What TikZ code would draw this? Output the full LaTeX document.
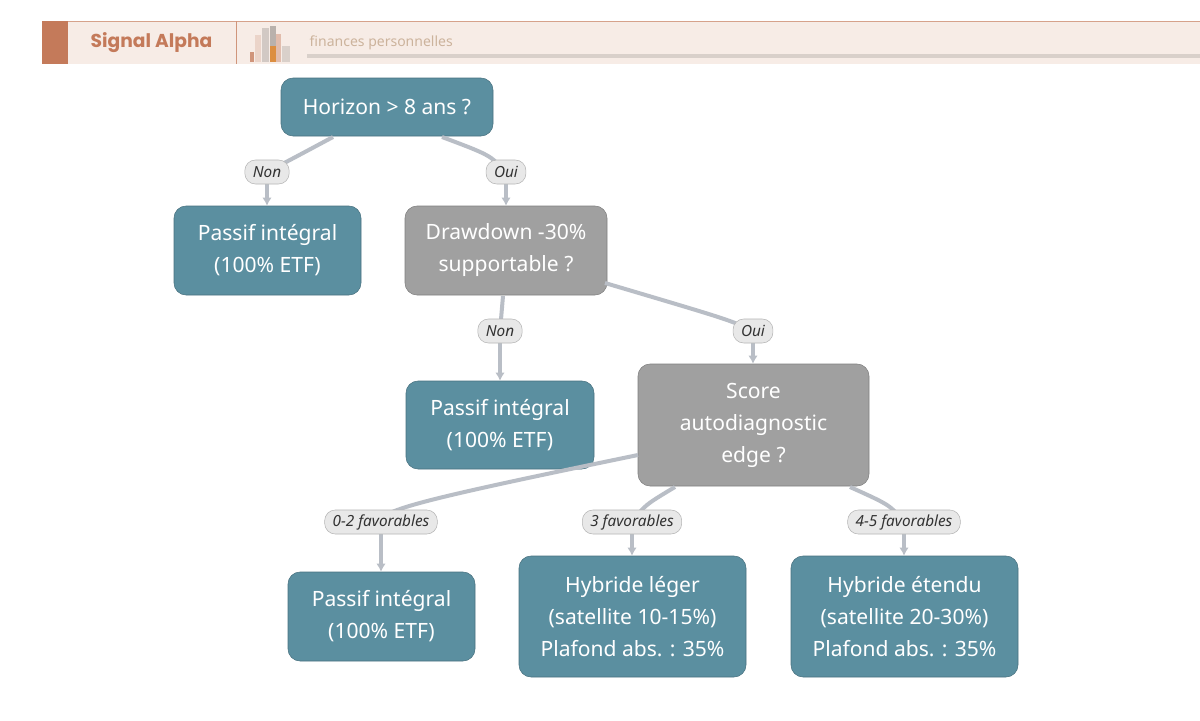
\documentclass[tikz,border=0pt]{standalone}
\usepackage{fontspec}
\setmainfont{Noto Sans}
\newfontfamily\popp{Poppins}
\begin{document}
\begin{tikzpicture}[x=0.75pt,y=-0.75pt,
  box/.style={rounded corners=9pt,minimum width=#1,align=center,font=\fontsize{15.8}{24}\selectfont,text=white,inner sep=0pt},
  teal/.style={box=#1,fill=tealc,draw=tealc!80!black},
  grey/.style={box=#1,fill=greyc,draw=greyc!80!black},
  lab/.style={fill=labf,draw=labd,rounded corners=8pt,font=\fontsize{11.5}{13}\selectfont\itshape,text=black!80,minimum height=18pt,inner xsep=6pt,inner ysep=2pt},
  ed/.style={draw=edc,line width=3pt},
  ar/.style={draw=edc,line width=2.4pt,-{Latex[length=6pt,width=7pt]}}]
\usetikzlibrary{arrows.meta}
\definecolor{tealc}{HTML}{5B8FA0}
\definecolor{greyc}{HTML}{A0A0A0}
\definecolor{edc}{HTML}{B9BEC6}
\definecolor{labf}{HTML}{E8E8E8}
\definecolor{labd}{HTML}{B5B5B5}
\definecolor{terra}{HTML}{C47A5A}
\definecolor{hbg}{HTML}{F7ECE6}
\useasboundingbox[fill=white] (0,0) rectangle (1200,721);
% header
\fill[hbg] (42,21) rectangle (1200,64);
\draw[terra!70] (42,21.5) -- (1200,21.5);
\fill[terra] (42,21) rectangle (68,64);
\draw[terra!80] (236,21) -- (236,64);
\node[anchor=west,text=terra,font=\popp\fontsize{14}{16}\selectfont\bfseries] (title) at (86,43) {Signal Alpha};
\fill[terra!40,opacity=.7] (255,35) rectangle (261,62);
\fill[black!15!hbg] (262,28) rectangle (269,62);
\fill[black!25!hbg] (270,26) rectangle (276,62);
\fill[orange!70!brown,opacity=.7] (270,46) rectangle (276,62);
\fill[terra!50] (276,34) rectangle (281,62);
\fill[black!12!hbg] (282,46) rectangle (290,62);
\fill[terra!80] (250,52) rectangle (254,62);
\fill[black!12!hbg] (307,54) rectangle (1200,58);
\node[anchor=west,text=black!15!hbg!70!brown,font=\fontsize{10.5}{12}\selectfont] (sub) at (305,43) {finances personnelles};
% nodes
\node[teal=212*0.75pt,minimum height=58*0.75pt] (H) at (387,107) {Horizon > 8 ans ?};
\node[teal=187*0.75pt,minimum height=89*0.75pt] (P1) at (267.5,250.5) {Passif intégral\\(100\% ETF)};
\node[grey=202*0.75pt,minimum height=89*0.75pt] (D) at (506,250.5) {Drawdown -30\%\\supportable ?};
\node[teal=188*0.75pt,minimum height=88*0.75pt] (P2) at (500,425) {Passif intégral\\(100\% ETF)};
\node[grey=231*0.75pt,minimum height=122*0.75pt] (S) at (753.5,425) {Score\\autodiagnostic\\edge ?};
\node[teal=187*0.75pt,minimum height=89*0.75pt] (P3) at (381.5,616.5) {Passif intégral\\(100\% ETF)};
\node[teal=227*0.75pt,minimum height=121*0.75pt] (HL) at (632.5,616.5) {Hybride léger\\(satellite 10-15\%)\\Plafond abs. : 35\%};
\node[teal=227*0.75pt,minimum height=121*0.75pt] (HE) at (904.5,616.5) {Hybride étendu\\(satellite 20-30\%)\\Plafond abs. : 35\%};
% edges
\coordinate (l1) at (267,172); \coordinate (l2) at (506,172);
\coordinate (l3) at (500,331); \coordinate (l4) at (753,331);
\coordinate (l5) at (381,522); \coordinate (l6) at (632,522); \coordinate (l7) at (904,522);
\draw[ed] (333,137) .. controls (290,160) .. (l1);
\draw[ed] (442,137) .. controls (490,155) .. (l2);
\draw[ed] (503,296) -- (l3);
\draw[ed] (605,283) .. controls (730,320) .. (l4);
\draw[ed] (638,455) .. controls (420,500) and (381,510) .. (l5);
\draw[ed] (675,487) .. controls (645,505) .. (l6);
\draw[ed] (850,487) .. controls (890,505) .. (l7);
\draw[ar] (l1) -- (P1.north-|l1);
\draw[ar] (l2) -- (D.north-|l2);
\draw[ar] (l3) -- (P2.north-|l3);
\draw[ar] (l4) -- (S.north-|l4);
\draw[ar] (l5) -- (P3.north-|l5);
\draw[ar] (l6) -- (HL.north-|l6);
\draw[ar] (l7) -- (HE.north-|l7);
\node[lab] (n1) at (l1) {Non};
\node[lab] (n2) at (l2) {Oui};
\node[lab] (n3) at (l3) {Non};
\node[lab] (n4) at (l4) {Oui};
\node[lab] (n5) at (l5) {0-2 favorables};
\node[lab] (n6) at (l6) {3 favorables};
\node[lab] (n7) at (l7) {4-5 favorables};
\end{tikzpicture}
\end{document}
